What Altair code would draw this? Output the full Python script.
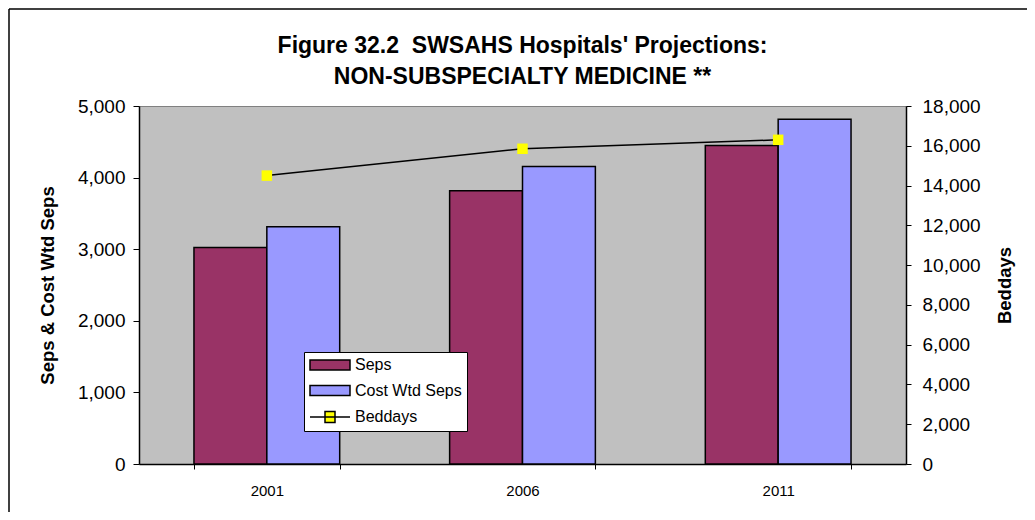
import altair as alt
import pandas as pd

years = ["2001", "2006", "2011"]
seps = [3025, 3815, 4450]
cost_wtd_seps = [3315, 4155, 4815]
beddays = [14500, 15850, 16300]
series_names = ["Seps", "Cost Wtd Seps", "Beddays"]
series_colors = ["#993366", "#9999FF", "#FFFF00"]
title_lines = ["Figure 32.2\u00a0\u00a0SWSAHS Hospitals' Projections:", "NON-SUBSPECIALTY MEDICINE **"]

FONT = "Liberation Sans"
W, H = 767, 358
PAD = {"left": 131, "top": 98, "right": 121, "bottom": 48}

bar_df = pd.DataFrame({
    "year": years * 2,
    "series": [series_names[0]] * 3 + [series_names[1]] * 3,
    "value": seps + cost_wtd_seps,
})
line_df = pd.DataFrame({"year": years, "beddays": beddays})

x_enc = alt.X(
    "year:N",
    sort=years,
    scale=alt.Scale(paddingInner=0.43, paddingOuter=0.215),
    axis=alt.Axis(
        title=None, labelAngle=0, tickBand="extent", tickSize=5, tickColor="black",
        domainColor="black", domainWidth=1.5, labelFontSize=15, labelFont=FONT,
        labelColor="black", labelPadding=14, grid=False,
    ),
)

legend_symbol = (
    "datum.value == 'Beddays' ? 'M-4,0H4M-1,-1.1H1V1.1H-1Z' : 'M-4,-1H4V1H-4Z'"
)

bars = alt.Chart(bar_df).mark_bar(stroke="black", strokeWidth=1.5, opacity=1).encode(
    x=x_enc,
    xOffset=alt.XOffset("series:N", sort=series_names[:2], scale=alt.Scale(paddingInner=0, paddingOuter=0)),
    y=alt.Y(
        "value:Q",
        scale=alt.Scale(domain=[0, 5000], nice=False),
        axis=alt.Axis(
            title="Seps & Cost Wtd Seps", values=[0, 1000, 2000, 3000, 4000, 5000], format=",.0f",
            tickSize=6, tickColor="black", domainColor="black", domainWidth=1.5,
            labelFontSize=19, labelFont=FONT, labelColor="black", labelPadding=8,
            titleFontSize=18.5, titleFont=FONT, titleFontWeight="bold", titleColor="black",
            titlePadding=20, grid=False,
        ),
    ),
    color=alt.Color(
        "series:N",
        scale=alt.Scale(domain=series_names, range=series_colors),
        legend=alt.Legend(
            title=None, orient="none", legendX=165, legendY=246,
            fillColor="white", strokeColor="black", padding=5,
            symbolType=alt.ExprRef(legend_symbol), symbolSize=100, symbolOffset=13,
            symbolStrokeColor="black", symbolStrokeWidth=1.5, symbolOpacity=1,
            labelFontSize=16, labelFont=FONT, labelColor="black", labelOffset=17,
            rowPadding=9.5,
        ),
    ),
)

right_axis = alt.Axis(
    title="Beddays", orient="right", values=list(range(0, 18001, 2000)), format=",.0f",
    tickSize=5, tickColor="black", domainColor="black", domainWidth=1.5,
    labelFontSize=19, labelFont=FONT, labelColor="black", labelPadding=11,
    titleFontSize=18.5, titleFont=FONT, titleFontWeight="bold", titleColor="black",
    titleAngle=270, titleBaseline="top", titlePadding=15, grid=False,
)
y_bed = alt.Y("beddays:Q", scale=alt.Scale(domain=[0, 18000], nice=False), axis=right_axis)

line = alt.Chart(line_df).mark_line(color="black", strokeWidth=1.5).encode(
    x=alt.X("year:N", sort=years),
    y=y_bed,
)
points = alt.Chart(line_df).mark_square(color="#FFFF00", size=110, opacity=1).encode(
    x=alt.X("year:N", sort=years),
    y=y_bed,
)

border_df = pd.DataFrame({"k": [0]})
border_top = alt.Chart(border_df).mark_rule(color="black", strokeWidth=1.5).encode(
    x=alt.value(-130), x2=alt.value(W + PAD["right"]), y=alt.value(-97)
)
border_left = alt.Chart(border_df).mark_rule(color="black", strokeWidth=1.5).encode(
    x=alt.value(-130), y=alt.value(-97), y2=alt.value(H + PAD["bottom"])
)

chart = alt.layer(
    bars, alt.layer(line, points), border_top, border_left
).resolve_scale(y="independent").properties(
    width=W,
    height=H,
    padding=PAD,
    autosize=alt.AutoSizeParams(type="none"),
    title=alt.Title(
        text=title_lines, fontSize=23, fontWeight="bold", font=FONT, color="black",
        anchor="middle", offset=-81, lineHeight=31,
    ),
).configure_view(
    fill="#C0C0C0", stroke="#808080", strokeWidth=1
)

chart.save("out.html", embed_options={"renderer": "svg", "actions": False})
